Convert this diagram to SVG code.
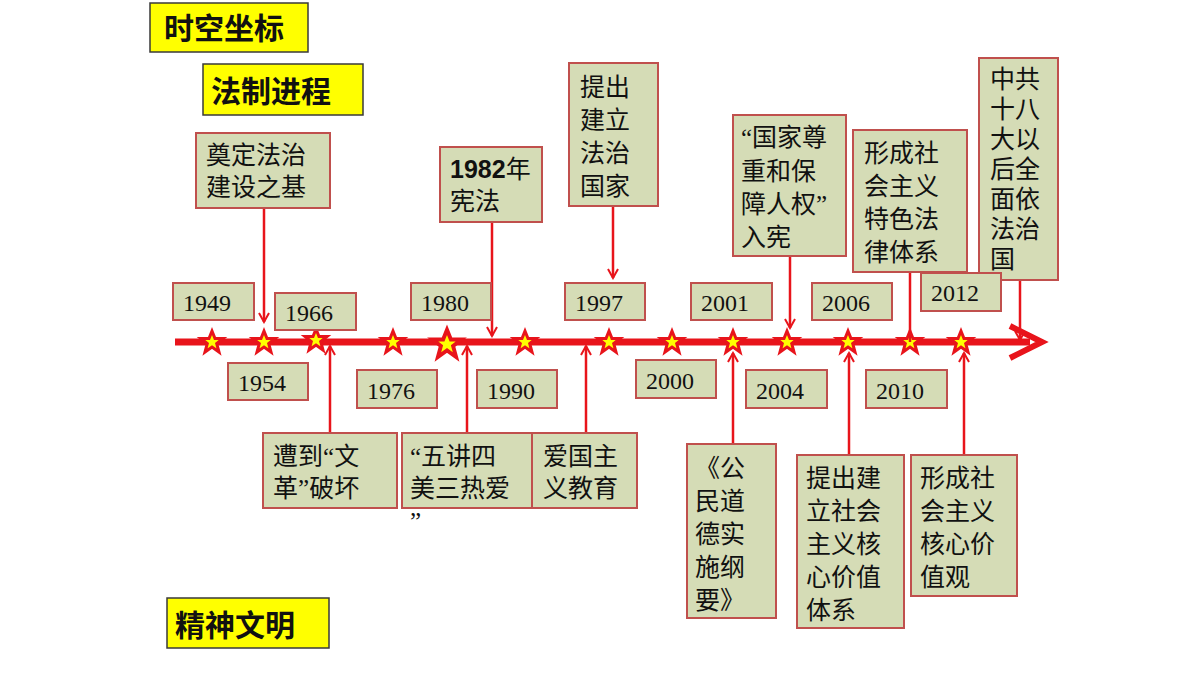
<svg xmlns="http://www.w3.org/2000/svg" width="1200" height="675" viewBox="0 0 1200 675">
<defs>
<style>
.b{fill:#d5dcb6;stroke:#c0504d;stroke-width:2}
.h{fill:#ffff00;stroke:#3a3a3a;stroke-width:1.5}
.t{font-family:"Noto Sans CJK SC",sans-serif;font-size:25px;fill:#111}
.q{font-family:"Liberation Serif",serif}
.ht{font-family:"Noto Sans CJK SC",sans-serif;font-size:30px;font-weight:bold;fill:#111}
.y{font-family:"Liberation Serif",serif;font-size:24px;fill:#111}
.c{stroke:#e8141b;stroke-width:2.5;fill:none}
.s{fill:#ffff00;stroke:#e8141b;stroke-width:3}
</style>
<marker id="a" viewBox="0 0 12 12" refX="10" refY="6" markerWidth="12" markerHeight="12" markerUnits="userSpaceOnUse" orient="auto"><path d="M1,1 L10,6 L1,11" fill="none" stroke="#e8141b" stroke-width="2"/></marker>
<path id="st" d="M0,-11 L3,-3.5 L11,-3.5 L4.7,1.5 L7,10 L0,5 L-7,10 L-4.7,1.5 L-11,-3.5 L-3,-3.5 Z"/>
</defs>
<rect width="1200" height="675" fill="#fff"/>
<g id="axis">
<line x1="175" y1="342" x2="1030" y2="342" stroke="#e8141b" stroke-width="7"/>
<path d="M1010,326 L1042,342 L1010,358" fill="none" stroke="#e8141b" stroke-width="6"/>
</g>
<g id="stars">
<use href="#st" class="s" x="212" y="342"/><use href="#st" class="s" x="264" y="342"/><use href="#st" class="s" x="316" y="340"/>
<use href="#st" class="s" x="393" y="342"/><use href="#st" class="s" x="447" y="344" transform="translate(447,344) scale(1.3) translate(-447,-344)"/><use href="#st" class="s" x="525" y="342"/>
<use href="#st" class="s" x="609" y="342"/><use href="#st" class="s" x="672" y="342"/><use href="#st" class="s" x="733" y="342"/>
<use href="#st" class="s" x="787" y="342"/><use href="#st" class="s" x="848" y="342"/><use href="#st" class="s" x="910" y="342"/><use href="#st" class="s" x="961" y="342"/>
</g>
<g id="connectors">
<line class="c" x1="264" y1="208" x2="264" y2="322" marker-end="url(#a)"/>
<line class="c" x1="492" y1="222" x2="492" y2="336" marker-end="url(#a)"/>
<line class="c" x1="613" y1="206" x2="613" y2="278" marker-end="url(#a)"/>
<line class="c" x1="790" y1="256" x2="790" y2="328" marker-end="url(#a)"/>
<line class="c" x1="910" y1="272" x2="910" y2="342"/>
<line class="c" x1="1020" y1="280" x2="1020" y2="340" marker-end="url(#a)"/>
<line class="c" x1="330" y1="433" x2="330" y2="346" marker-end="url(#a)"/>
<line class="c" x1="467" y1="433" x2="467" y2="346" marker-end="url(#a)"/>
<line class="c" x1="586" y1="433" x2="586" y2="346" marker-end="url(#a)"/>
<line class="c" x1="733" y1="444" x2="733" y2="353" marker-end="url(#a)"/>
<line class="c" x1="849" y1="455" x2="849" y2="353" marker-end="url(#a)"/>
<line class="c" x1="964" y1="455" x2="964" y2="353" marker-end="url(#a)"/>
</g>
<g id="h1"><rect class="h" x="150" y="3" width="158" height="49"/><text class="ht" x="164" y="39">时空坐标</text></g>
<g id="h2"><rect class="h" x="203" y="64" width="160" height="51"/><text class="ht" x="211" y="102">法制进程</text></g>
<g id="h3"><rect class="h" x="167" y="598" width="162" height="50"/><text class="ht" x="175" y="636">精神文明</text></g>
<g id="n1"><rect class="b" x="196" y="133" width="134" height="75"/><text class="t" x="206" y="164">奠定法治</text><text class="t" x="206" y="196">建设之基</text></g>
<g id="n2"><rect class="b" x="440" y="147" width="102" height="75"/><text class="t" x="450" y="178"><tspan font-weight="bold" font-family="Liberation Sans,sans-serif">1982</tspan>年</text><text class="t" x="450" y="210">宪法</text></g>
<g id="n3"><rect class="b" x="569" y="63" width="89" height="143"/><text class="t" x="580" y="96">提出</text><text class="t" x="580" y="129">建立</text><text class="t" x="580" y="162">法治</text><text class="t" x="580" y="195">国家</text></g>
<g id="n4"><rect class="b" x="733" y="115" width="113" height="141"/><text class="t" x="741" y="146"><tspan class="q">“</tspan>国家尊</text><text class="t" x="741" y="180">重和保</text><text class="t" x="741" y="213">障人权<tspan class="q">”</tspan></text><text class="t" x="741" y="246">入宪</text></g>
<g id="n5"><rect class="b" x="853" y="130" width="114" height="142"/><text class="t" x="864" y="162">形成社</text><text class="t" x="864" y="195">会主义</text><text class="t" x="864" y="228">特色法</text><text class="t" x="864" y="261">律体系</text></g>
<g id="n6"><rect class="b" x="979" y="58" width="79" height="222"/><g class="t" font-size="24px"><text x="990" y="88">中共</text><text x="990" y="118">十八</text><text x="990" y="148">大以</text><text x="990" y="178">后全</text><text x="990" y="208">面依</text><text x="990" y="238">法治</text><text x="990" y="268">国</text></g></g>
<g id="y1949"><rect class="b" x="173" y="283" width="81" height="37"/><text class="y" x="183" y="311">1949</text></g>
<g id="y1966"><rect class="b" x="275" y="293" width="81" height="37"/><text class="y" x="285" y="321">1966</text></g>
<g id="y1980"><rect class="b" x="411" y="283" width="80" height="37"/><text class="y" x="421" y="311">1980</text></g>
<g id="y1997"><rect class="b" x="565" y="283" width="80" height="37"/><text class="y" x="575" y="311">1997</text></g>
<g id="y2001"><rect class="b" x="691" y="283" width="81" height="37"/><text class="y" x="701" y="311">2001</text></g>
<g id="y2006"><rect class="b" x="812" y="283" width="80" height="37"/><text class="y" x="822" y="311">2006</text></g>
<g id="y2012"><rect class="b" x="921" y="273" width="80" height="38"/><text class="y" x="931" y="301">2012</text></g>
<g id="y1954"><rect class="b" x="228" y="363" width="80" height="37"/><text class="y" x="238" y="391">1954</text></g>
<g id="y1976"><rect class="b" x="357" y="370" width="80" height="38"/><text class="y" x="367" y="399">1976</text></g>
<g id="y1990"><rect class="b" x="477" y="370" width="80" height="38"/><text class="y" x="487" y="399">1990</text></g>
<g id="y2000"><rect class="b" x="636" y="360" width="80" height="38"/><text class="y" x="646" y="389">2000</text></g>
<g id="y2004"><rect class="b" x="746" y="370" width="81" height="38"/><text class="y" x="756" y="399">2004</text></g>
<g id="y2010"><rect class="b" x="866" y="370" width="81" height="38"/><text class="y" x="876" y="399">2010</text></g>
<g id="b1"><rect class="b" x="263" y="433" width="134" height="75"/><text class="t" x="273" y="465">遭到<tspan class="q">“</tspan>文</text><text class="t" x="273" y="497">革<tspan class="q">”</tspan>破坏</text></g>
<g id="b2"><rect class="b" x="402" y="433" width="130" height="75"/><text class="t" x="410" y="465"><tspan class="q">“</tspan>五讲四</text><text class="t" x="410" y="497">美三热爱</text><text class="t q" x="410" y="530">”</text></g>
<g id="b3"><rect class="b" x="532" y="433" width="105" height="75"/><text class="t" x="543" y="465">爱国主</text><text class="t" x="543" y="497">义教育</text></g>
<g id="b4"><rect class="b" x="687" y="444" width="89" height="174"/><text class="t" x="695" y="477">《公</text><text class="t" x="695" y="510">民道</text><text class="t" x="695" y="543">德实</text><text class="t" x="695" y="576">施纲</text><text class="t" x="695" y="609">要》</text></g>
<g id="b5"><rect class="b" x="797" y="455" width="107" height="173"/><text class="t" x="806" y="487">提出建</text><text class="t" x="806" y="520">立社会</text><text class="t" x="806" y="553">主义核</text><text class="t" x="806" y="586">心价值</text><text class="t" x="806" y="619">体系</text></g>
<g id="b6"><rect class="b" x="911" y="455" width="106" height="141"/><text class="t" x="920" y="487">形成社</text><text class="t" x="920" y="520">会主义</text><text class="t" x="920" y="553">核心价</text><text class="t" x="920" y="586">值观</text></g>
</svg>
